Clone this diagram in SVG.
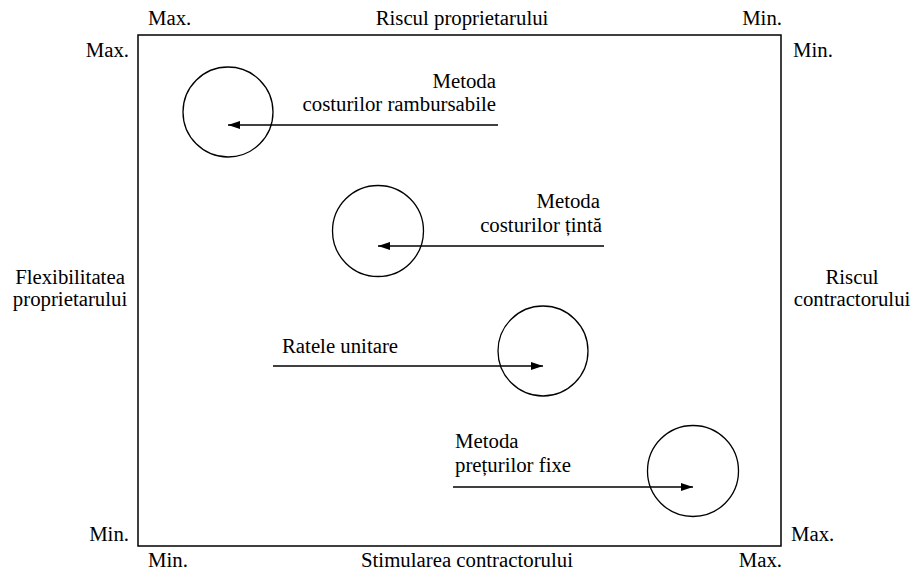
<svg xmlns="http://www.w3.org/2000/svg" width="912" height="571" viewBox="0 0 912 571">
  <defs>
    <marker id="arrow" viewBox="0 0 12 8" refX="12" refY="4" markerWidth="12" markerHeight="8" markerUnits="userSpaceOnUse" orient="auto">
      <path d="M0,0 L12,4 L0,8 Z" fill="#000"/>
    </marker>
    <style>
      .frame { fill: none; stroke: #000; stroke-width: 1.5; }
      .node circle { fill: none; stroke: #000; stroke-width: 1.3; }
      .conn line { stroke: #000; stroke-width: 1.3; }
    </style>
  </defs>
  <rect width="912" height="571" fill="#fff"/>

  <g font-family="Liberation Serif, Times New Roman, serif" font-size="20.8" fill="#000">
    <!-- frame and axis labels -->
    <g id="frame">
      <rect class="frame" x="138" y="35" width="643" height="511"/>
      <text x="148" y="25">Max.</text>
      <text text-anchor="middle" x="462" y="25">Riscul proprietarului</text>
      <text text-anchor="end" x="782" y="25">Min.</text>
      <text text-anchor="end" x="129" y="57">Max.</text>
      <text x="793" y="57">Min.</text>
      <text text-anchor="middle" x="70" y="284">Flexibilitatea</text>
      <text text-anchor="middle" x="70" y="306">proprietarului</text>
      <text text-anchor="middle" x="852" y="284">Riscul</text>
      <text text-anchor="middle" x="852" y="306">contractorului</text>
      <text text-anchor="end" x="129" y="541">Min.</text>
      <text x="791" y="541">Max.</text>
      <text x="148" y="567">Min.</text>
      <text text-anchor="middle" x="467" y="567">Stimularea contractorului</text>
      <text text-anchor="end" x="782" y="567">Max.</text>
    </g>

    <g id="n-rambursabile" class="node">
      <circle cx="228" cy="112" r="45"/>
      <text text-anchor="end" x="496" y="88">Metoda</text>
      <text text-anchor="end" x="496" y="111">costurilor rambursabile</text>
    </g>

    <g id="n-tinta" class="node">
      <circle cx="378" cy="231" r="45.5"/>
      <text text-anchor="end" x="600" y="208">Metoda</text>
      <text text-anchor="end" x="602" y="232">costurilor țintă</text>
    </g>

    <g id="n-rate" class="node">
      <circle cx="543" cy="351" r="45"/>
      <text x="282" y="353">Ratele unitare</text>
    </g>

    <g id="n-fixe" class="node">
      <circle cx="693" cy="471" r="45.5"/>
      <text x="455" y="448">Metoda</text>
      <text x="455" y="472">prețurilor fixe</text>
    </g>
  </g>

  <g id="connectors" class="conn" marker-end="url(#arrow)">
    <line x1="498" y1="125" x2="228" y2="125"/>
    <line x1="604" y1="246" x2="378" y2="246"/>
    <line x1="273" y1="366" x2="543" y2="366"/>
    <line x1="453" y1="487" x2="693" y2="487"/>
  </g>
</svg>
